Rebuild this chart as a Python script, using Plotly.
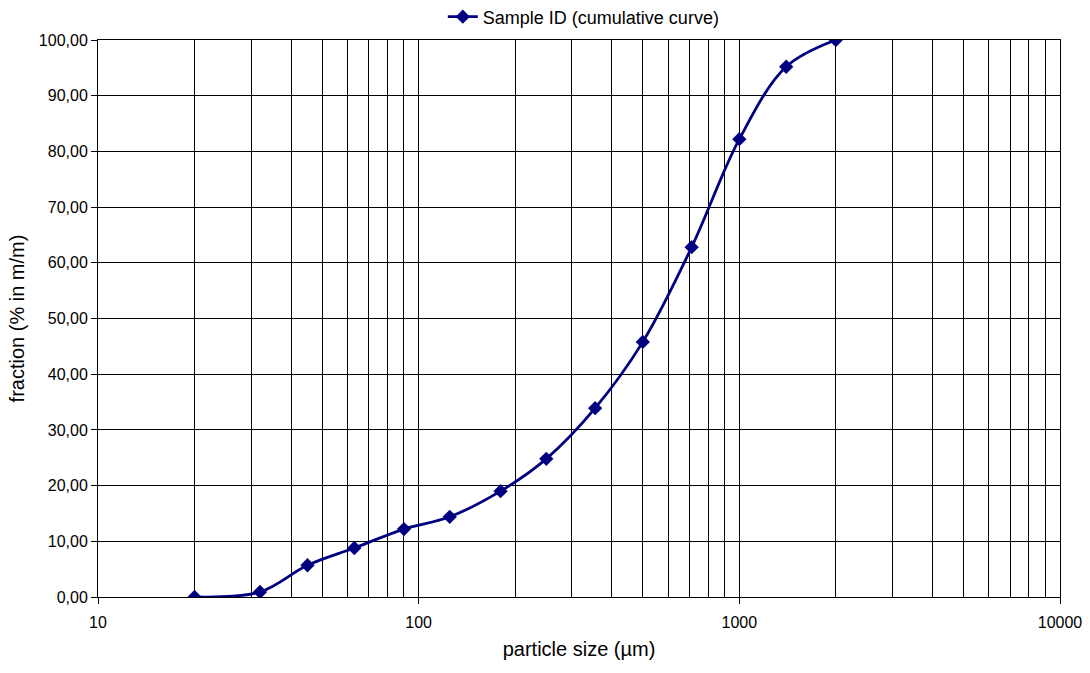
import plotly.graph_objects as go

particle_size = [20, 32, 45, 63, 90, 125, 180, 250, 355, 500, 710, 1000, 1400, 2000]
fraction = [0.0, 0.9, 5.7, 8.8, 12.2, 14.4, 19.0, 24.8, 33.9, 45.8, 62.8, 82.2, 95.2, 100.0]
series_name = "Sample ID (cumulative curve)"
x_major = [10, 100, 1000, 10000]
x_minor = [m * d for d in (10, 100, 1000) for m in range(2, 10)]
y_ticks = list(range(0, 101, 10))

fig = go.Figure()
fig.add_trace(go.Scatter(
    x=particle_size, y=fraction, name=series_name,
    mode="lines+markers",
    line=dict(color="#000080", width=2.8, shape="spline", smoothing=1),
    marker=dict(symbol="diamond", size=11, color="#000080"),
))

fam = "Liberation Sans, Arial, sans-serif"
tick_font = dict(family=fam, size=16, color="black")
legend_font = dict(family=fam, size=18, color="black")
title_font = dict(family=fam, size=20, color="black")
fig.update_layout(
    width=1090, height=673,
    margin=dict(l=98, r=30, t=40, b=76, autoexpand=False),
    paper_bgcolor="white", plot_bgcolor="white",
    font=tick_font,
    separators=", ",
    showlegend=True,
    legend=dict(orientation="h", x=0.505, xanchor="center", xref="paper",
                y=1 - 17 / 673, yanchor="middle", yref="container",
                font=legend_font, bgcolor="rgba(0,0,0,0)"),
    xaxis=dict(
        type="log", range=[1, 4],
        tickmode="array", tickvals=x_major, ticktext=[str(v) for v in x_major],
        showgrid=True, gridcolor="black", gridwidth=1,
        ticks="outside", ticklen=6, tickcolor="black", tickfont=tick_font,
        ticklabelstandoff=5,
        showline=True, linecolor="black", linewidth=1, mirror=True,
        zeroline=False,
        minor=dict(tickmode="array", tickvals=x_minor, showgrid=True,
                   gridcolor="black", gridwidth=1, ticks=""),
        title=dict(text="particle size (µm)", font=title_font, standoff=11),
    ),
    yaxis=dict(
        range=[0, 100],
        tickmode="array", tickvals=y_ticks, tickformat=".2f",
        showgrid=True, gridcolor="black", gridwidth=1,
        ticks="outside", ticklen=6, tickcolor="black", tickfont=tick_font,
        showline=True, linecolor="black", linewidth=1, mirror=True,
        zeroline=False,
        title=dict(text="fraction (% in m/m)", font=title_font, standoff=8),
    ),
)

fig.write_html("out.html")
